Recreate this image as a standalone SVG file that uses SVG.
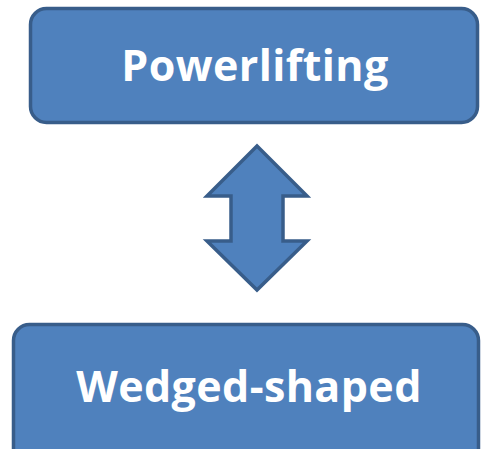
<svg xmlns="http://www.w3.org/2000/svg" width="481" height="449" viewBox="0 0 481 449">
  <style>
    .box { fill: #4f81bd; stroke: #385d8a; stroke-width: 3.5; }
    .label { fill: #ffffff; font-family: "Open Sans", "Lato", "Liberation Sans", sans-serif; font-weight: bold; text-anchor: middle; font-size: 43px; letter-spacing: 0.4px; }
  </style>
  <rect width="481" height="449" fill="#ffffff"/>
  <g id="node-powerlifting">
    <rect class="box" x="30.5" y="8.5" width="447" height="114" rx="16"/>
    <text class="label" x="255" y="81">Powerlifting</text>
  </g>
  <g id="node-wedged-shaped">
    <rect class="box" x="13.5" y="324.5" width="465" height="140" rx="16"/>
    <text class="label" x="249" y="402">Wedged-shaped</text>
  </g>
  <g id="connectors">
    <polygon class="box" stroke-linejoin="miter" points="257,146 307,196 283,196 283,241 307,241 257,290 207,241 231,241 231,196 207,196"/>
  </g>
</svg>
